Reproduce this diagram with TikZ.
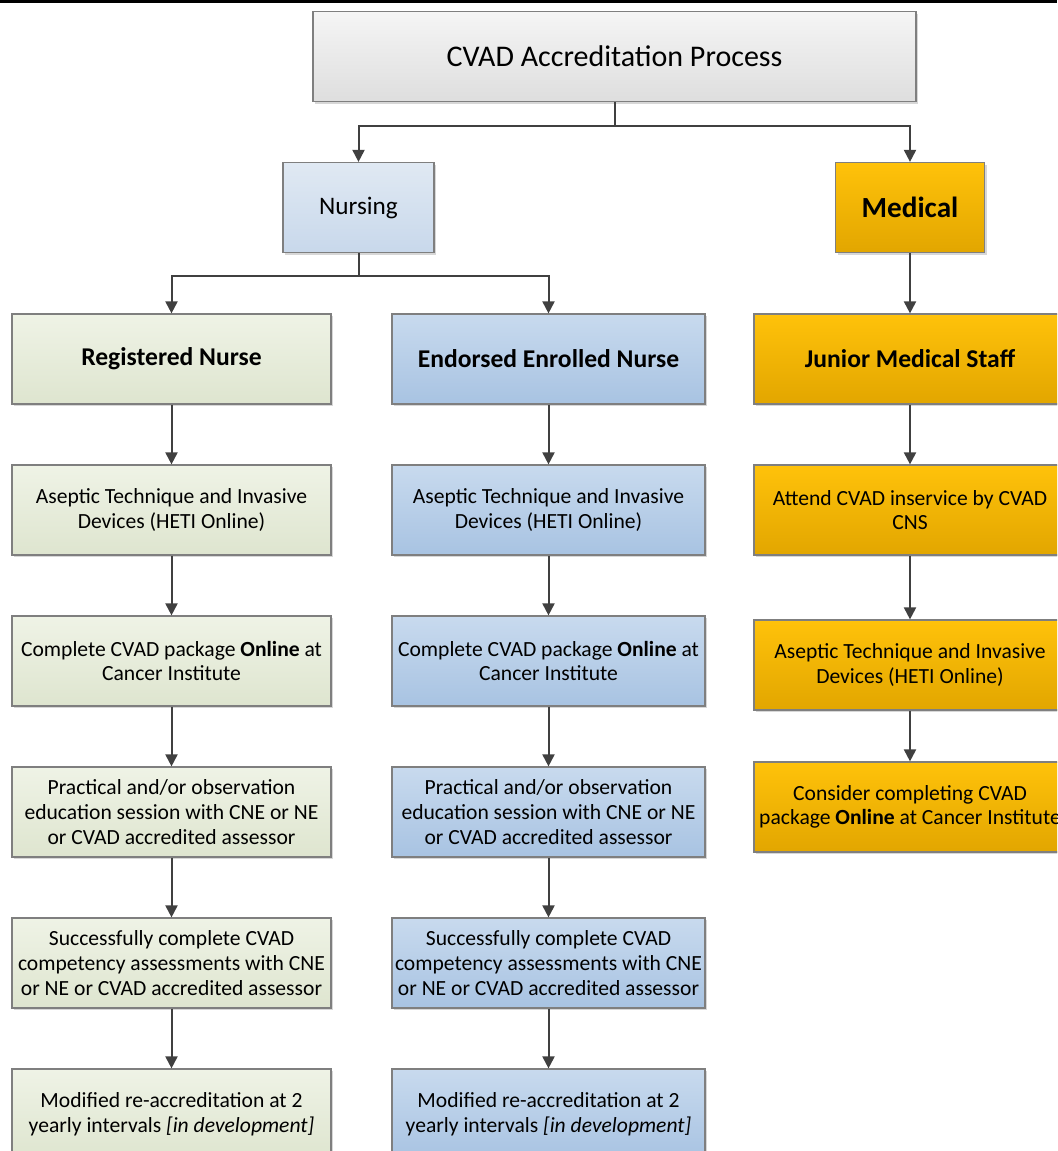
\documentclass[tikz,border=0pt]{standalone}
\usepackage{fontspec}
\setmainfont{Carlito}
\usetikzlibrary{arrows.meta,shadows}

\definecolor{boxline}{HTML}{7F7F7F}
\definecolor{arrowgray}{HTML}{404040}
\definecolor{titletop}{HTML}{F5F5F5}
\definecolor{titlebot}{HTML}{DEDEDE}
\definecolor{nurstop}{HTML}{E0E9F3}
\definecolor{nursbot}{HTML}{C8D8EB}
\definecolor{rntop}{HTML}{EFF3E6}
\definecolor{rnbot}{HTML}{DEE5CF}
\definecolor{entop}{HTML}{C8DAEE}
\definecolor{enbot}{HTML}{A8C3E2}
\definecolor{medtop}{HTML}{FFC20A}
\definecolor{medbot}{HTML}{E2A600}

\begin{document}
\begin{tikzpicture}[x=0.5pt,y=-0.5pt,
  box/.style={draw=boxline,line width=0.6pt,align=center,inner sep=0pt,
    minimum height=45pt,font=\fontsize{10.8}{12.3}\selectfont,
    drop shadow={shadow xshift=1.1pt,shadow yshift=-1.1pt,fill=black!35,opacity=0.45}},
  titlebox/.style={box,minimum width=301.5pt,top color=titletop,bottom color=titlebot,
    font=\fontsize{15}{17}\selectfont},
  nursbox/.style={box,minimum width=75.5pt,top color=nurstop,bottom color=nursbot,
    font=\fontsize{12.6}{15}\selectfont},
  medbox/.style={box,minimum width=74.5pt,top color=medtop,bottom color=medbot,
    font=\fontsize{14.6}{17}\selectfont\bfseries},
  rn/.style={box,minimum width=159.5pt,top color=rntop,bottom color=rnbot},
  en/.style={box,minimum width=156.5pt,top color=entop,bottom color=enbot},
  jm/.style={box,minimum width=156pt,top color=medtop,bottom color=medbot},
  head/.style={font=\fontsize{12.8}{15}\selectfont\bfseries},
  arr/.style={draw=arrowgray,line width=1pt,-{Triangle[width=6pt,length=6pt]}}]
\path[use as bounding box,clip] (0,0) rectangle (1057,1151);
\draw[line width=1.6pt] (0,1.2)--(1057,1.2);

% top of the tree
\node[titlebox] (title) at (614.5,56.5) {CVAD Accreditation Process};
\node[nursbox] (nursing) at (358.5,207.5) {Nursing};
\node[medbox] (medical) at (910,207.5) {Medical};

% registered nurse
\node[rn,head] (rn1) at (171.5,359) {Registered Nurse};
\node[rn] (rn2) at (171.5,510) {Aseptic Technique and Invasive\\Devices (HETI Online)};
\node[rn] (rn3) at (171.5,661) {Complete CVAD package \textbf{Online} at\\Cancer Institute};
\node[rn] (rn4) at (171.5,812) {Practical and/or observation\\education session with CNE or NE\\or CVAD accredited assessor};
\node[rn] (rn5) at (171.5,963) {Successfully complete CVAD\\competency assessments with CNE\\or NE or CVAD accredited assessor};
\node[rn] (rn6) at (171.5,1114) {Modified re-accreditation at 2\\yearly intervals \textit{[in development]}};

% endorsed enrolled nurse
\node[en,head] (en1) at (548.5,359) {Endorsed Enrolled Nurse};
\node[en] (en2) at (548.5,510) {Aseptic Technique and Invasive\\Devices (HETI Online)};
\node[en] (en3) at (548.5,661) {Complete CVAD package \textbf{Online} at\\Cancer Institute};
\node[en] (en4) at (548.5,812) {Practical and/or observation\\education session with CNE or NE\\or CVAD accredited assessor};
\node[en] (en5) at (548.5,963) {Successfully complete CVAD\\competency assessments with CNE\\or NE or CVAD accredited assessor};
\node[en] (en6) at (548.5,1114) {Modified re-accreditation at 2\\yearly intervals \textit{[in development]}};

% junior medical staff
\node[jm,head] (jm1) at (910,359) {Junior Medical Staff};
\node[jm] (jm2) at (910,510) {Attend CVAD inservice by CVAD\\CNS};
\node[jm] (jm3) at (910,665) {Aseptic Technique and Invasive\\Devices (HETI Online)};
\node[jm] (jm4) at (910,807) {Consider completing CVAD\\package \textbf{Online} at Cancer Institute};

% connectors
\draw[arr] (title.south)--++(0,24)-|(nursing.north);
\draw[arr] (title.south)--++(0,24)-|(medical.north);
\draw[arr] (nursing.south)--++(0,23)-|(rn1.north);
\draw[arr] (nursing.south)--++(0,23)-|(en1.north);
\draw[arr] (medical)--(jm1);
\draw[arr] (rn1)--(rn2);
\draw[arr] (rn2)--(rn3);
\draw[arr] (rn3)--(rn4);
\draw[arr] (rn4)--(rn5);
\draw[arr] (rn5)--(rn6);
\draw[arr] (en1)--(en2);
\draw[arr] (en2)--(en3);
\draw[arr] (en3)--(en4);
\draw[arr] (en4)--(en5);
\draw[arr] (en5)--(en6);
\draw[arr] (jm1)--(jm2);
\draw[arr] (jm2)--(jm3);
\draw[arr] (jm3)--(jm4);
\end{tikzpicture}
\end{document}
